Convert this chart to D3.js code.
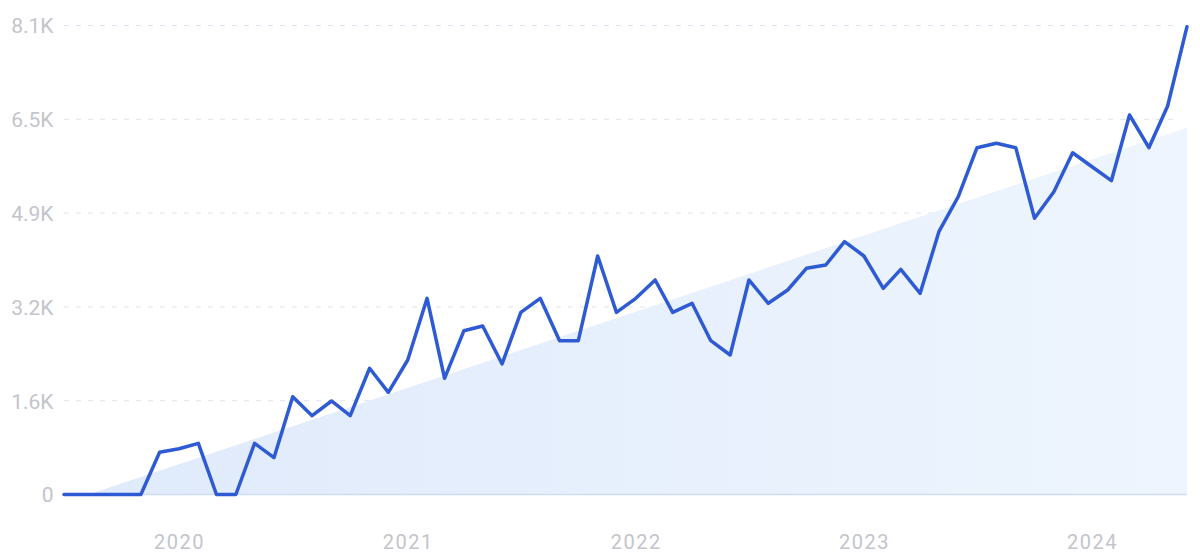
<!DOCTYPE html>
<html>
<head>
<meta charset="utf-8">
<script src="https://cdn.jsdelivr.net/npm/d3@7"></script>
<style>
  html, body { margin: 0; padding: 0; background: #ffffff; }
  svg { display: block; }
  text { font-family: Roboto, "Noto Sans", sans-serif; }
</style>
</head>
<body>
<svg id="chart" width="1200" height="558"></svg>
<script>
// Monthly values, Jul 2019 .. Jun 2024
const months = d3.range(60).map(i => new Date(2019, 6 + i, 1));
const values = [
  0, 0, 0, 0, 0, 729, 790, 884, 0, 0,
  884, 636, 1689, 1361, 1615, 1361, 2180, 1765, 2323, 3388,
  2007, 2829, 2910, 2254, 3146, 3388, 2656, 2656, 4119, 3146,
  3388, 3705, 3146, 3302, 2656, 2409, 3705, 3302, 3532, 3907,
  3964, 4366, 4119, 3561, 3889, 3475, 4539, 5143, 5990, 6066,
  5990, 4770, 5230, 5903, 5661, 5420, 6554, 5990, 6710, 8080
];
// Trend line endpoints (first and last month)
const trendValues = [-140, 6336];
const yTicks = [0, 1620, 3240, 4860, 6480, 8100];
const yTickLabels = ["0", "1.6K", "3.2K", "4.9K", "6.5K", "8.1K"];
const xTickYears = [2020, 2021, 2022, 2023, 2024];

const svg = d3.select("#chart");
const M = { left: 64, right: 1187, top: 25.5, bottom: 494.5 };

const x = d3.scaleTime()
  .domain([months[0], months[months.length - 1]])
  .range([M.left, M.right]);
const y = d3.scaleLinear().domain([0, 8100]).range([M.bottom, M.top]);

// gradient for trend area
const defs = svg.append("defs");
const grad = defs.append("linearGradient").attr("id", "trendGrad")
  .attr("x1", "0%").attr("y1", "0%").attr("x2", "100%").attr("y2", "0%");
grad.append("stop").attr("offset", "0%").attr("stop-color", "#dfeafb");
grad.append("stop").attr("offset", "100%").attr("stop-color", "#eef5fe");
defs.append("clipPath").attr("id", "plotClip")
  .append("rect").attr("x", M.left).attr("y", 0)
  .attr("width", M.right - M.left).attr("height", M.bottom);

// gridlines
svg.append("g").selectAll("line")
  .data(yTicks.filter(d => d > 0))
  .join("line")
  .attr("x1", M.left).attr("x2", 1180)
  .attr("y1", d => y(d)).attr("y2", d => y(d))
  .attr("stroke", "#dde3ee")
  .attr("stroke-width", 1)
  .attr("stroke-dasharray", "5,7");

// trend area
const trendData = [
  { date: months[0], v: trendValues[0] },
  { date: months[months.length - 1], v: trendValues[1] }
];
svg.append("path")
  .datum(trendData)
  .attr("clip-path", "url(#plotClip)")
  .attr("fill", "url(#trendGrad)")
  .attr("d", d3.area().x(d => x(d.date)).y0(y(0)).y1(d => y(d.v)));

// baseline
svg.append("line")
  .attr("x1", M.left).attr("x2", M.right)
  .attr("y1", y(0)).attr("y2", y(0))
  .attr("stroke", "#cfdcf2").attr("stroke-width", 1.5);

// y axis labels
const yAxis = d3.axisLeft(y).tickValues(yTicks)
  .tickFormat((d, i) => yTickLabels[i]).tickSize(0).tickPadding(10.5);
const gy = svg.append("g").attr("transform", `translate(${M.left},0)`).call(yAxis);
gy.select(".domain").remove();
gy.selectAll("text")
  .attr("fill", "#c4c4cc")
  .style("font-size", "21px")
  .attr("dy", "0.35em");

// x axis labels
const xAxis = d3.axisBottom(x)
  .tickValues(xTickYears.map(yr => new Date(yr, 0, 1)))
  .tickFormat(d3.timeFormat("%Y")).tickSize(0).tickPadding(0);
const gx = svg.append("g").attr("transform", `translate(0,${M.bottom})`).call(xAxis);
gx.select(".domain").remove();
gx.selectAll("text")
  .attr("fill", "#c4c4cc")
  .style("font-size", "20px")
  .style("letter-spacing", "1.5px")
  .attr("y", 47.5)
  .attr("dy", "0.35em");

// main line
svg.append("path")
  .datum(values.map((v, i) => ({ date: months[i], v })))
  .attr("fill", "none")
  .attr("stroke", "#2e5bd3")
  .attr("stroke-width", 3.5)
  .attr("stroke-linejoin", "round")
  .attr("stroke-linecap", "round")
  .attr("d", d3.line().x(d => x(d.date)).y(d => y(d.v)));
</script>
</body>
</html>
